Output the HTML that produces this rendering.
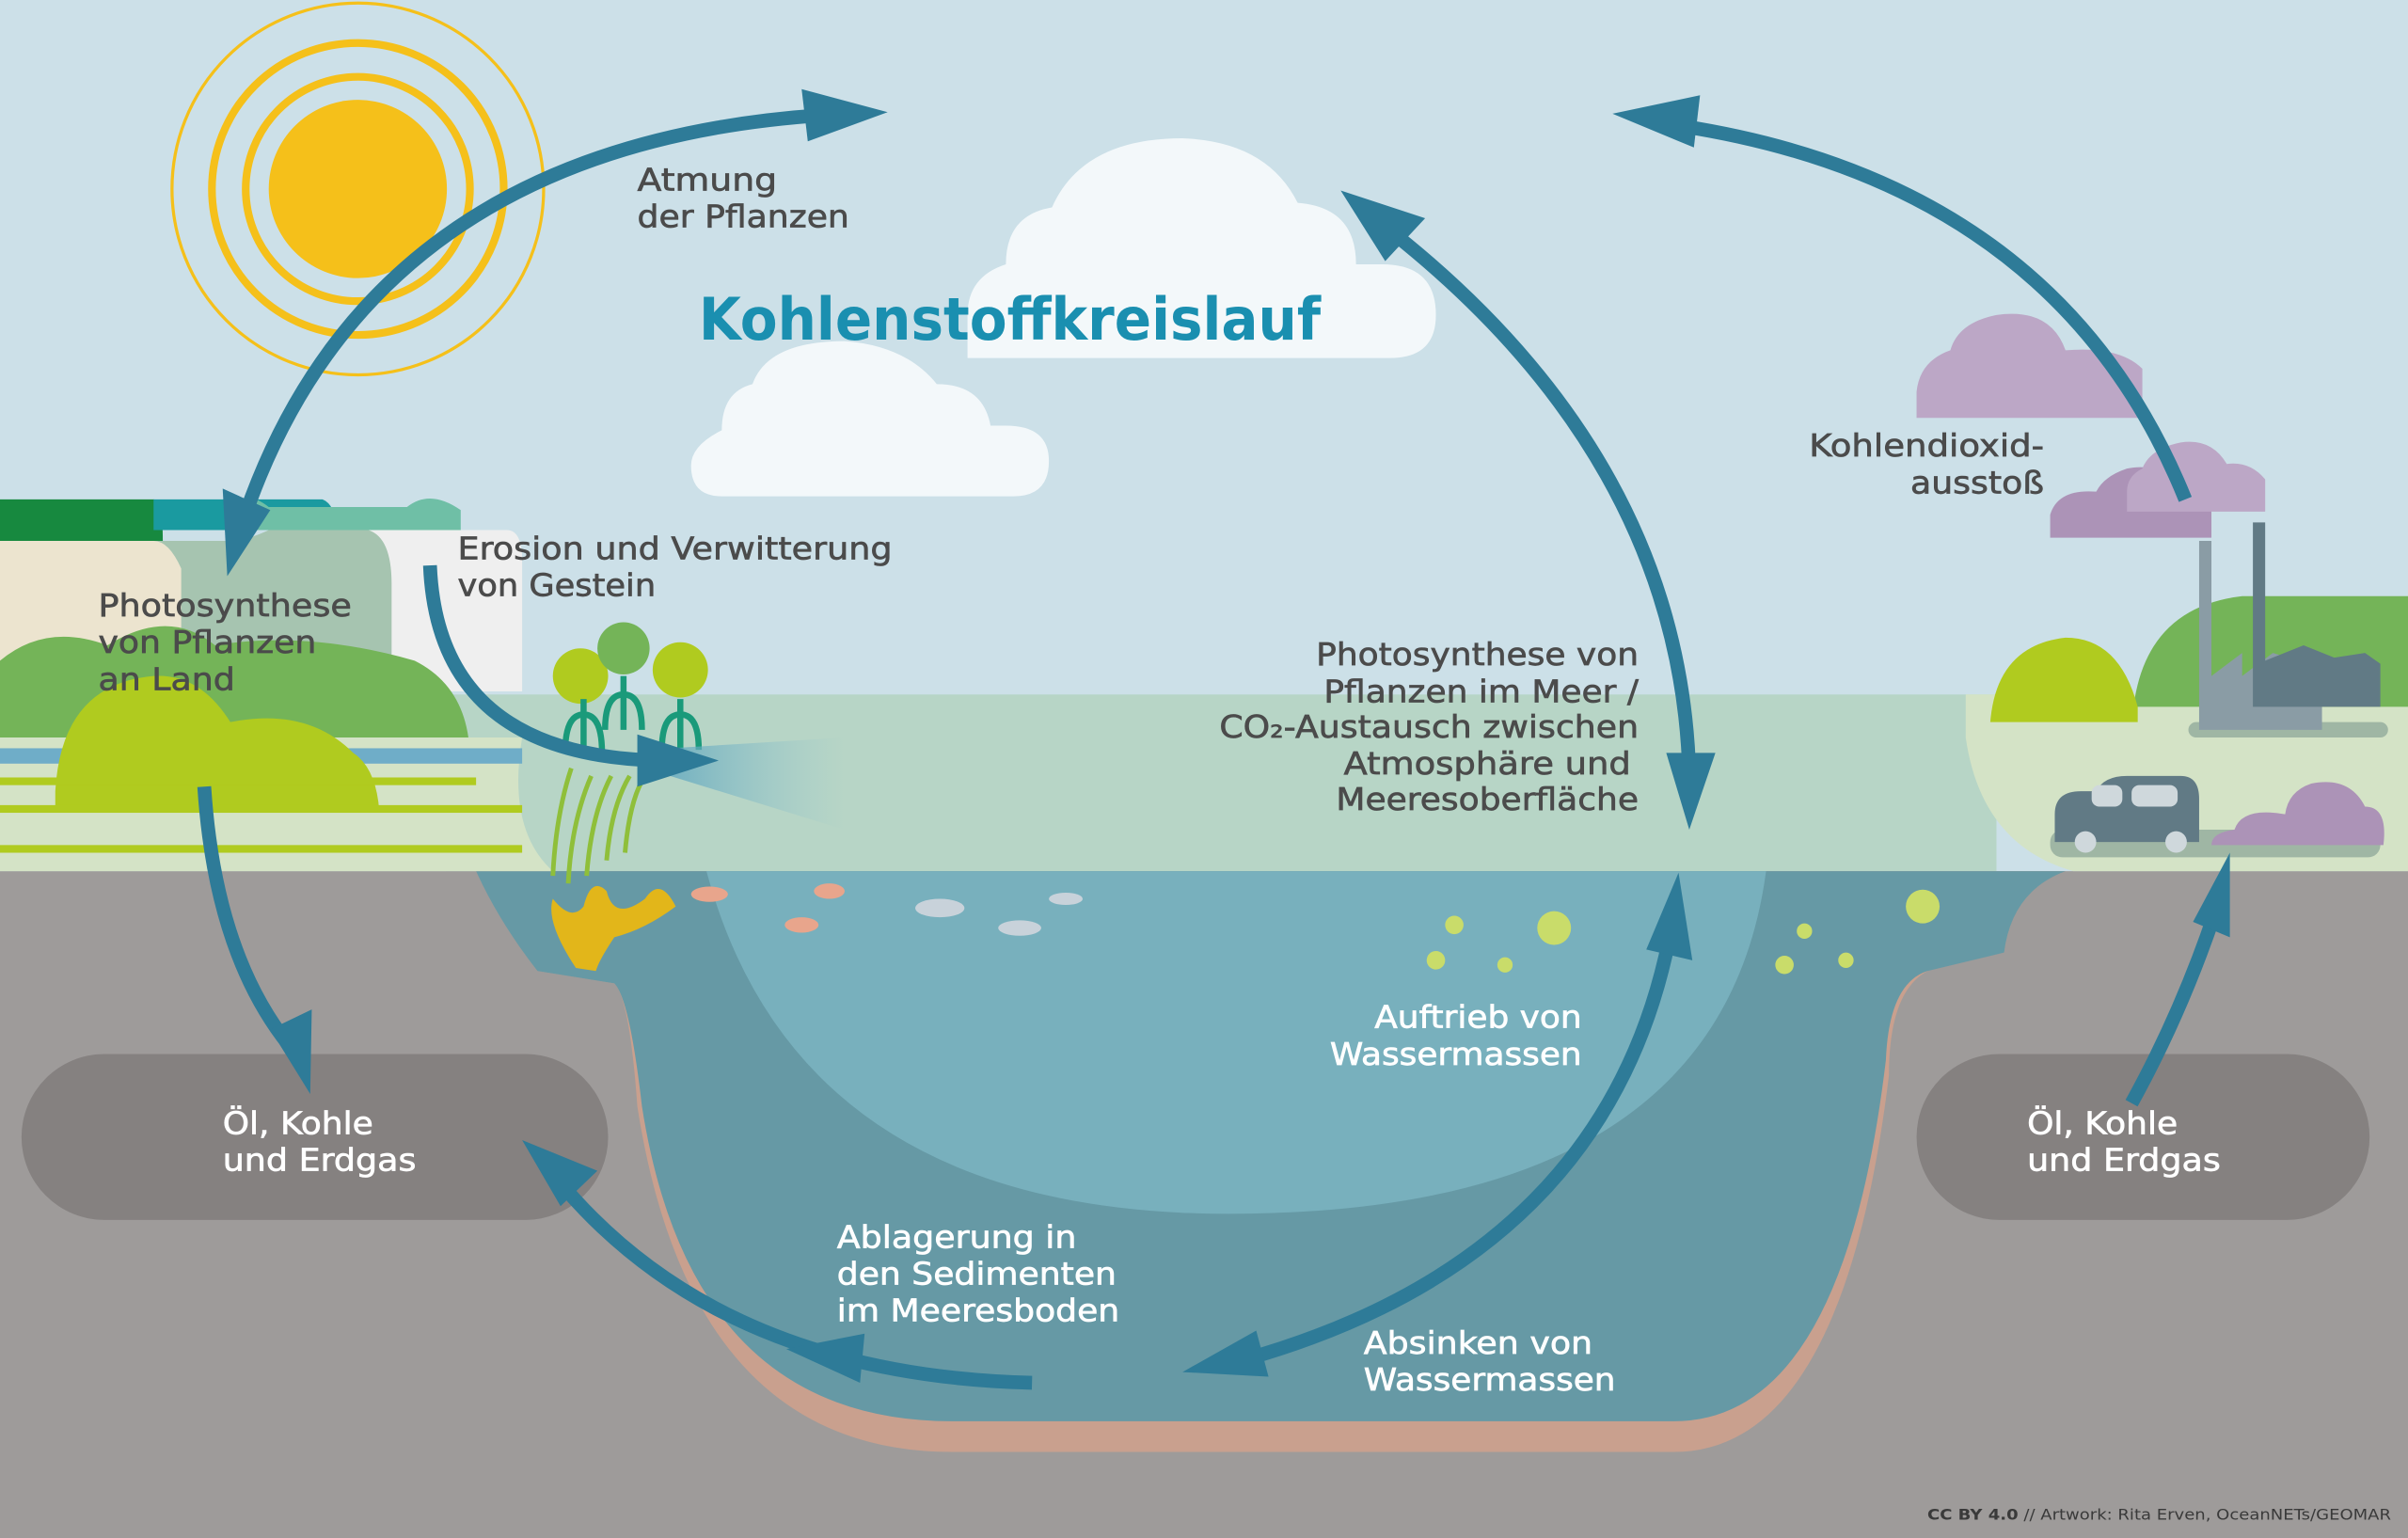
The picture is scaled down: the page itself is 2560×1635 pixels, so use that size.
<!DOCTYPE html>
<html><head><meta charset="utf-8"><style>
html,body{margin:0;padding:0;background:#cce0e8;}
svg{display:block}
text{font-family:"DejaVu Sans","Liberation Sans",sans-serif;}
</style></head><body>
<svg width="2560" height="1635" viewBox="0 0 1568 1001" preserveAspectRatio="none" xmlns="http://www.w3.org/2000/svg">
<defs>
<linearGradient id="fade" x1="0" x2="1" y1="0" y2="0">
<stop offset="0" stop-color="#5aa3bd" stop-opacity="0.9"/>
<stop offset="1" stop-color="#8fc3cf" stop-opacity="0"/>
</linearGradient>
</defs>
<rect width="1568" height="1001" fill="#cce0e8"/>
<rect x="290" y="452" width="1010" height="116" fill="#b7d5c6"/>
<rect x="0" y="567" width="1568" height="434" fill="#9e9b9a"/>
<path d="M310,567 L1345,567 Q1310,580 1305,620 L1260,630 Q1230,640 1230,700 Q1200,945 1090,945 L620,945 Q450,945 415,720 Q410,650 400,640 L350,632 Q325,600 310,567 Z" fill="#c9a08e"/>
<path d="M310,567 L1345,567 Q1310,580 1305,620 L1255,632 Q1230,640 1228,690 Q1200,925 1090,925 L620,925 Q450,925 418,720 Q410,650 400,640 L350,632 Q325,600 310,567 Z" fill="#6699a5"/>
<path d="M460,567 L1150,567 Q1120,790 800,790 Q520,790 460,567 Z" fill="#78b0bd"/>
<!-- land left -->
<path d="M0,325 L100,325 Q106,325 106,352 L0,352Z" fill="#17893f"/>
<path d="M100,325 L210,325 Q218,328 220,345 L100,345Z" fill="#1a9aa0"/>
<path d="M150,330 Q160,318 175,330 L265,330 Q280,318 300,332 L300,345 L150,345Z" fill="#6fbfa6"/>
<path d="M200,345 L330,345 Q340,345 340,365 L340,450 L200,450Z" fill="#efefef"/>
<path d="M0,352 L150,352 Q160,352 175,345 L240,345 Q255,350 255,380 L255,470 L0,470Z" fill="#a6c4b0"/>
<path d="M0,352 L100,352 Q110,352 118,370 L118,470 L0,470Z" fill="#ece4cf"/>
<path d="M0,430 Q30,405 70,420 Q110,395 140,420 Q200,410 270,430 Q300,445 305,480 L0,480Z" fill="#74b458"/>
<path d="M0,480 L340,480 Q330,540 360,567 L0,567Z" fill="#d4e3c6"/>
<rect x="0" y="487" width="340" height="10" fill="#6fadc8"/>
<path d="M36,515 Q40,445 100,440 Q130,438 150,470 Q200,460 230,490 Q245,500 247,528 L36,528Z" fill="#b0cb1f"/>
<rect x="0" y="506" width="310" height="5" fill="#b0cb1f"/>
<rect x="0" y="524" width="340" height="5" fill="#b0cb1f"/>
<rect x="0" y="550" width="340" height="5" fill="#b0cb1f"/>
<g fill="#b0cb1f"><circle cx="378" cy="440" r="18"/><circle cx="443" cy="436" r="18"/></g>
<circle cx="406" cy="422" r="17" fill="#74b458"/>
<g stroke="#1a9a7a" stroke-width="4" fill="none">
<path d="M380,455 L380,490 M368,490 Q368,465 380,465 Q392,465 392,490"/>
<path d="M406,440 L406,475 M394,475 Q394,452 406,452 Q418,452 418,475"/>
<path d="M443,455 L443,488 M431,488 Q431,465 443,465 Q455,465 455,488"/>
</g>
<g stroke="#8fbf3a" stroke-width="3" fill="none">
<path d="M360,570 Q362,530 372,500 M370,575 Q372,535 385,505 M382,570 Q385,530 398,505 M395,560 Q398,525 410,505 M407,555 Q410,520 420,505"/>
</g>
<g fill="#e2b61a"><path d="M375,630 Q355,600 360,585 Q372,600 380,590 Q385,570 395,580 Q400,600 420,585 Q430,570 440,590 Q420,605 400,610 Q390,625 388,632Z"/></g>
<g fill="#e8a58c"><ellipse cx="462" cy="582" rx="12" ry="5"/><ellipse cx="540" cy="580" rx="10" ry="5"/><ellipse cx="522" cy="602" rx="11" ry="5"/></g>
<g fill="#c8d2da"><ellipse cx="612" cy="591" rx="16" ry="6"/><ellipse cx="664" cy="604" rx="14" ry="5"/><ellipse cx="694" cy="585" rx="11" ry="4"/></g>
<g fill="#c9dc6a"><circle cx="1012" cy="604" r="11"/><circle cx="1252" cy="590" r="11"/><circle cx="935" cy="625" r="6"/><circle cx="1162" cy="628" r="6"/><circle cx="947" cy="602" r="6"/><circle cx="1175" cy="606" r="5"/><circle cx="980" cy="628" r="5"/><circle cx="1202" cy="625" r="5"/></g>
<path d="M420,488 L550,480 L550,540 L420,500Z" fill="url(#fade)"/>
<!-- right land -->
<path d="M1280,452 L1568,452 L1568,567 L1350,567 Q1290,550 1280,480Z" fill="#d4e3c6"/>
<path d="M1390,455 Q1400,395 1460,388 L1568,388 L1568,460 L1390,460Z" fill="#74b458"/>
<path d="M1296,470 Q1300,420 1345,415 Q1380,415 1392,460 L1392,470Z" fill="#b0cb1f"/>
<rect x="1425" y="470" width="130" height="10" rx="5" fill="#9fb6a4"/>
<path d="M1432,352 L1440,352 L1440,440 L1460,425 L1460,440 L1480,425 L1512,435 L1512,475 L1432,475Z" fill="#8a9ca5"/>
<path d="M1467,340 L1475,340 L1475,430 L1500,420 L1520,428 L1540,425 L1550,432 L1550,460 L1467,460Z" fill="#617a85"/>
<rect x="1335" y="540" width="215" height="18" rx="8" fill="#9fb6a4"/>
<path d="M1338,530 Q1338,515 1355,515 L1365,515 Q1370,505 1385,505 L1420,505 Q1432,505 1432,520 L1432,548 L1338,548Z" fill="#617a85"/>
<rect x="1362" y="511" width="20" height="14" rx="5" fill="#cfd8dc"/>
<rect x="1388" y="511" width="30" height="14" rx="5" fill="#cfd8dc"/>
<circle cx="1358" cy="548" r="7" fill="#cfd8dc"/><circle cx="1417" cy="548" r="7" fill="#cfd8dc"/>
<g fill="#ac93b7">
<path d="M1440,550 L1552,550 Q1555,525 1540,525 Q1530,505 1505,510 Q1490,515 1488,530 Q1460,525 1455,540 Q1440,542 1440,550Z"/>
<path d="M1335,350 L1440,350 L1440,330 Q1430,320 1420,322 Q1410,300 1385,305 Q1370,310 1365,320 Q1340,318 1335,335Z"/>
</g>
<g fill="#bca7c6">
<path d="M1248,272 L1395,272 L1395,240 Q1380,225 1345,228 Q1335,200 1300,205 Q1275,210 1270,228 Q1250,235 1248,255Z"/>
<path d="M1385,333 L1475,333 L1475,312 Q1465,300 1450,302 Q1440,285 1420,288 Q1400,292 1395,305 Q1385,310 1385,320Z"/>
</g>
<circle cx="233" cy="123" r="121" fill="none" stroke="#f5c01a" stroke-width="2"/>
<circle cx="233" cy="123" r="95" fill="none" stroke="#f5c01a" stroke-width="5"/>
<circle cx="233" cy="123" r="73" fill="none" stroke="#f5c01a" stroke-width="5"/>
<circle cx="233" cy="123" r="58" fill="#f5c01a"/>
<g fill="#f3f8fa">
<path d="M630,233 L905,233 Q935,233 935,205 Q935,172 900,172 L883,172 Q883,135 845,132 Q825,92 770,90 Q705,90 685,135 Q655,140 655,172 Q630,180 630,205Z"/>
<path d="M470,323 L660,323 Q683,323 683,300 Q683,277 655,277 L645,277 Q640,250 610,250 Q590,225 550,222 Q500,222 490,250 Q470,255 470,280 Q450,290 450,303 Q450,323 470,323Z"/>
</g>
<rect x="14" y="686" width="382" height="108" rx="54" fill="#858180"/>
<rect x="1248" y="686" width="295" height="108" rx="54" fill="#858180"/>
<g fill="none" stroke="#2e7b98" stroke-width="9">
<path d="M158,340 Q240,95 535,75"/>
<path d="M905,150 Q1095,300 1100,505"/>
<path d="M1095,82 Q1340,120 1423,325"/>
<path d="M280,368 Q285,492 430,495"/>
<path d="M133,512 Q140,620 188,680"/>
<path d="M1388,718 Q1420,660 1442,595"/>
<path d="M1085,620 Q1040,820 810,885"/>
<path d="M672,900 Q470,895 365,770"/>
</g>
<g fill="#2e7b98">
<polygon points="148,375 145,318 176,332"/>
<polygon points="578,73 522,58 526,92"/>
<polygon points="873,124 928,142 902,170"/>
<polygon points="1100,540 1085,490 1117,490"/>
<polygon points="1050,74 1107,62 1103,96"/>
<polygon points="468,495 415,478 415,512"/>
<polygon points="202,712 176,670 203,657"/>
<polygon points="1452,555 1452,610 1428,600"/>
<polygon points="1093,568 1102,625 1072,618"/>
<polygon points="770,893 818,866 826,896"/>
<polygon points="340,742 389,762 365,785"/>
<polygon points="512,878 563,868 560,900"/>
</g>
<g fill="#4b4b4b" stroke="#4b4b4b" stroke-width="0.4" font-size="20" lengthAdjust="spacingAndGlyphs">
<text x="415" y="124" textLength="91" lengthAdjust="spacingAndGlyphs">Atmung</text>
<text x="415" y="148" textLength="138" lengthAdjust="spacingAndGlyphs">der Pflanzen</text>
<text x="298" y="364" textLength="283" lengthAdjust="spacingAndGlyphs">Erosion und Verwitterung</text>
<text x="298" y="388" textLength="129" lengthAdjust="spacingAndGlyphs">von Gestein</text>
<text x="64" y="401" textLength="165" lengthAdjust="spacingAndGlyphs">Photosynthese</text>
<text x="64" y="425" textLength="142" lengthAdjust="spacingAndGlyphs">von Pflanzen</text>
<text x="64" y="449" textLength="89" lengthAdjust="spacingAndGlyphs">an Land</text>
<text x="1178" y="297" textLength="153" lengthAdjust="spacingAndGlyphs">Kohlendioxid-</text>
<text x="1244" y="321" textLength="87" lengthAdjust="spacingAndGlyphs">ausstoß</text>
<text x="857" y="433" textLength="210" lengthAdjust="spacingAndGlyphs">Photosynthese von</text>
<text x="862" y="457" textLength="205" lengthAdjust="spacingAndGlyphs">Pflanzen im Meer /</text>
<text x="794" y="480" textLength="273" lengthAdjust="spacingAndGlyphs">CO₂-Austausch zwischen</text>
<text x="875" y="504" textLength="187" lengthAdjust="spacingAndGlyphs">Atmosphäre und</text>
<text x="870" y="527" textLength="197" lengthAdjust="spacingAndGlyphs">Meeresoberfläche</text>
</g>
<text x="455" y="221" font-size="38" font-weight="bold" fill="#1a8fb0" textLength="405" lengthAdjust="spacingAndGlyphs">Kohlenstoffkreislauf</text>
<g fill="#ffffff" stroke="#ffffff" stroke-width="0.4" font-size="20">
<text x="145" y="738" textLength="98" lengthAdjust="spacingAndGlyphs">Öl, Kohle</text>
<text x="145" y="762" textLength="126" lengthAdjust="spacingAndGlyphs">und Erdgas</text>
<text x="1320" y="738" textLength="98" lengthAdjust="spacingAndGlyphs">Öl, Kohle</text>
<text x="1320" y="762" textLength="126" lengthAdjust="spacingAndGlyphs">und Erdgas</text>
<text x="895" y="669" textLength="135" lengthAdjust="spacingAndGlyphs">Auftrieb von</text>
<text x="866" y="693" textLength="164" lengthAdjust="spacingAndGlyphs">Wassermassen</text>
<text x="545" y="812" textLength="156" lengthAdjust="spacingAndGlyphs">Ablagerung in</text>
<text x="545" y="836" textLength="182" lengthAdjust="spacingAndGlyphs">den Sedimenten</text>
<text x="545" y="860" textLength="184" lengthAdjust="spacingAndGlyphs">im Meeresboden</text>
<text x="888" y="881" textLength="149" lengthAdjust="spacingAndGlyphs">Absinken von</text>
<text x="888" y="905" textLength="164" lengthAdjust="spacingAndGlyphs">Wassermassen</text>
</g>
<text x="1255" y="989" font-size="10" fill="#3a3a3a" textLength="302" lengthAdjust="spacingAndGlyphs"><tspan font-weight="bold">CC BY 4.0</tspan> // Artwork: Rita Erven, OceanNETs/GEOMAR</text>
</svg>
</body></html>
